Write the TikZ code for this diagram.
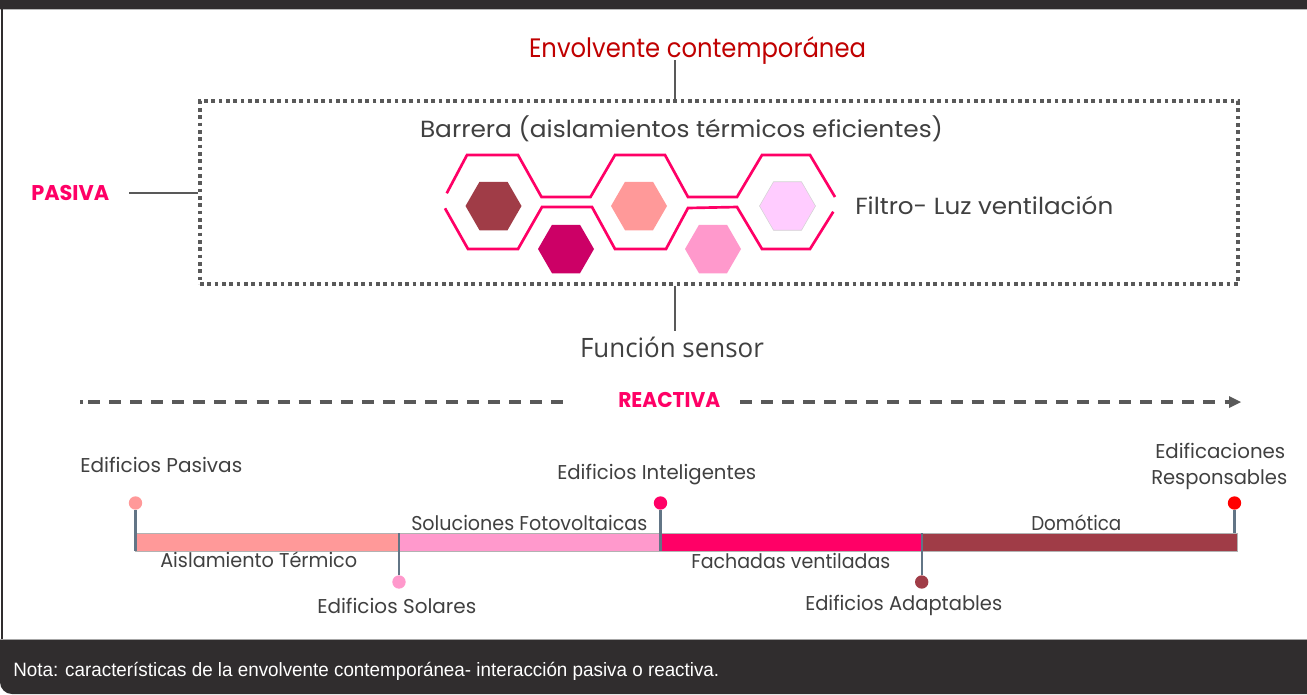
\documentclass[tikz,border=0pt]{standalone}
\usepackage{fontspec}
\usepackage{graphicx}
\setmainfont{Poppins}
\newfontfamily\sensfont{Open Sans}
\newfontfamily\notafont{Liberation Sans}
\usetikzlibrary{arrows.meta,calc}
\definecolor{frame}{HTML}{302D2E}
\definecolor{txtgray}{HTML}{404040}
\definecolor{linegray}{HTML}{595959}
\definecolor{pinkline}{HTML}{FF0066}
\definecolor{titred}{HTML}{C00000}
\definecolor{cwine}{HTML}{A03C47}
\definecolor{cmag}{HTML}{CC0066}
\definecolor{csal}{HTML}{FF9999}
\definecolor{cpink}{HTML}{FF99CC}
\definecolor{clil}{HTML}{FFCCFF}
\definecolor{cred}{HTML}{FF0000}
\definecolor{stemc}{HTML}{627586}
\newlength\fw
\newcommand\fitw[2]{\settowidth\fw{#2}\scalebox{\fpeval{#1*0.75/(\the\fw)}}[1]{#2}}
\newcommand\fsz[1]{\fontsize{#1}{#1}\selectfont}
\begin{document}
\begin{tikzpicture}[x=0.75pt,y=-0.75pt,
  tx/.style={anchor=base,inner sep=0pt,text=txtgray},
  txw/.style={anchor=base west,inner sep=0pt,text=txtgray},
  conn/.style={draw=linegray,line width=1.5pt},
  dotbox/.style={draw=linegray,line width=2.6pt,dash pattern=on 2.8pt off 2.7pt},
  chain/.style={draw=pinkline,line width=2pt,line join=miter},
  dashline/.style={draw=linegray,line width=2.5pt,dash pattern=on 9pt off 6.8pt},
  pinc/.style={circle,minimum size=10pt,inner sep=0pt},
  stemline/.style={draw=stemc,line width=1.6pt},
  barseg/.style={draw=gray!60,line width=0.4pt}]
\useasboundingbox (0,0) rectangle (1307,694);
% frame
\fill[white] (0,0) rectangle (1307,694);
\fill[frame] (0,0) rectangle (1307,9);
\draw[gray!55,line width=0.8pt] (0,9.6) -- (1307,9.6);
\draw[frame,line width=1.3pt] (2.2,9) -- (2.2,640);
\fill[frame] (1307,639) -- (1307,694) -- (12,694) arc[start angle=90,end angle=180,radius=12] -- (0,639) -- cycle;
\draw[gray!70,line width=0.8pt] (0,639.4) -- (1307,639.4);
\node[anchor=base west,inner sep=0pt,text=white] (nota) at (13,676)
  {\notafont\fsz{14.5pt}\fitw{706}{Nota: características de la envolvente contemporánea- interacción pasiva o reactiva.}};

% dotted box
\node[dotbox,minimum width=778.5pt,minimum height=137.25pt,inner sep=0pt] (box) at (719,192.5) {};

% title
\node[tx,text=titred] (title) at (697.5,57) {\fsz{20pt}\fitw{337}{Envolvente contemporánea}};
\coordinate (c1) at (675,60);
\draw[conn] (c1) -- (c1 |- box.north);

\node[tx] (barr) at (681.5,137) {\fsz{17.5pt}\fitw{523}{Barrera (aislamientos térmicos eficientes)}};
\node[txw] (filt) at (855,214) {\fsz{17.5pt}\fitw{258}{Filtro- Luz ventilación}};

% pasiva
\node[anchor=base west,inner sep=0pt,text=pinkline] (pas) at (31,200) {\fsz{16pt}\bfseries\fitw{78}{PASIVA}};
\coordinate (c2) at (129,193);
\draw[conn] (c2) -- (c2 -| box.west);

% sensor
\node[tx] (fs) at (672,357) {\sensfont\fsz{20pt}\fitw{184}{Función sensor}};
\coordinate (c3) at (675,331);
\draw[conn] (c3 |- box.south) -- (c3);

% hexagon chain
\draw[chain] (446.7,193.3) -- (467,155) -- (518,155) -- (541.5,197) -- (590.5,197) -- (615,155) -- (665,155) -- (688,197) -- (737,197) -- (762,155) -- (810,155) -- (835,197);
\draw[chain] (445,208.3) -- (468,249) -- (518,249) -- (542,207) -- (592,207) -- (615,249) -- (666,249) -- (688,208) -- (737,207) -- (762,249) -- (810,249) -- (833.3,211.7);
\foreach \cx/\cy/\col in {493.5/206/cwine, 566/249/cmag, 639/206/csal, 713/249/cpink}{
  \fill[\col] (\cx,\cy) +(0:28) -- +(60:28) -- +(120:28) -- +(180:28) -- +(240:28) -- +(300:28) -- cycle;
}
\filldraw[fill=clil,draw=gray!35,line width=0.4pt] (787.5,206) +(0:28) -- +(60:28) -- +(120:28) -- +(180:28) -- +(240:28) -- +(300:28) -- cycle;

% reactiva
\node[anchor=base west,inner sep=0pt,text=pinkline] (rea) at (618,407) {\fsz{16pt}\bfseries\fitw{102}{REACTIVA}};
\coordinate (l0) at (80,402);
\coordinate (l1) at (88,402);
\coordinate (l2) at (567,402);
\coordinate (r1) at (740,402);
\coordinate (r2) at (1241,402);
\draw[draw=linegray,line width=2.5pt] (l0) -- ++(2.5,0);
\draw[dashline] (l1) -- (l2);
\draw[dashline,-{Triangle[length=9pt,width=9pt,line width=0pt]}] (r1) -- (r2);

% timeline bar
\coordinate (bt) at (0,533);
\coordinate (bb) at (0,551);
\fill[csal] (135.5,533) rectangle (399,551);
\fill[cpink] (399,533) rectangle (660.5,551);
\fill[pinkline] (660.5,533) rectangle (921.7,551);
\fill[cwine] (921.7,533) rectangle (1237,551);
\draw[barseg] (135.5,533) rectangle (1237,551);

% pins
\node[pinc,fill=csal] (p1) at (135.5,503) {};
\node[pinc,fill=cpink] (p2) at (399,582) {};
\node[pinc,fill=pinkline] (p3) at (660.5,503) {};
\node[pinc,fill=cwine] (p4) at (921.7,582) {};
\node[pinc,fill=cred] (p5) at (1234.5,503) {};
\draw[stemline] (p1.south) -- (p1 |- bb);
\draw[stemline] (p2.north) -- (p2 |- bt);
\draw[stemline] (p3.south) -- (p3 |- bb);
\draw[stemline] (p4.north) -- (p4 |- bt);
\draw[stemline] (p5.south) -- (p5 |- bt);

% labels
\node[txw] (e1) at (80,472) {\fsz{15pt}\fitw{162}{Edificios Pasivas}};
\node[txw] (e2) at (557,479) {\fsz{15pt}\fitw{199}{Edificios Inteligentes}};
\node[txw] (e3) at (411,530) {\fsz{15pt}\fitw{236}{Soluciones Fotovoltaicas}};
\node[txw] (e4) at (160,567) {\fsz{15pt}\fitw{197}{Aislamiento Térmico}};
\node[txw] (e5) at (317,613) {\fsz{15pt}\fitw{159}{Edificios Solares}};
\node[txw] (e6) at (691,568) {\fsz{15pt}\fitw{199}{Fachadas ventiladas}};
\node[txw] (e7) at (805,610) {\fsz{15pt}\fitw{197}{Edificios Adaptables}};
\node[txw] (e8) at (1031,530) {\fsz{15pt}\fitw{90}{Domótica}};
\node[txw] (e9) at (1155,458) {\fsz{15pt}\fitw{130}{Edificaciones}};
\node[txw] (e10) at (1151,484) {\fsz{15pt}\fitw{136}{Responsables}};
\end{tikzpicture}
\end{document}
